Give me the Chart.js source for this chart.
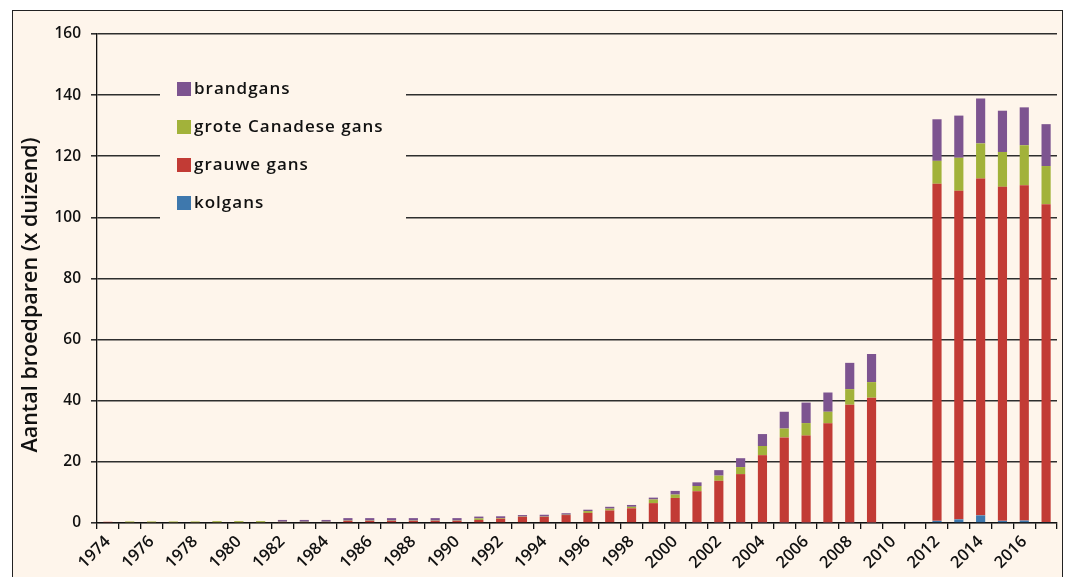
<!DOCTYPE html>
<html>
<head>
<meta charset="utf-8">
<script src="https://cdn.jsdelivr.net/npm/chart.js@4.4.0/dist/chart.umd.min.js"></script>
<style>
  body { margin: 0; background: #fff; }
  #frame {
    position: absolute; left: 12px; top: 10px;
    width: 1051px; height: 567px;
    box-sizing: border-box;
    border: 1px solid #222; border-bottom: none;
    background: #fef5eb;
  }
  canvas { display: block; }
</style>
</head>
<body>
<div id="frame"><canvas id="chart" width="1049" height="566"></canvas></div>
<script>
// Broedparen ganzen (x duizend)
const years = [];
for (let y = 1974; y <= 2017; y++) years.push(String(y));

const kolgans = [
  0, 0, 0, 0, 0, 0, 0, 0, 0, 0,
  0, 0, 0, 0, 0, 0, 0, 0, 0, 0,
  0, 0, 0, 0, 0, 0, 0.2, 0.2, 0.2, 0.2,
  0.2, 0.2, 0.2, 0.2, 0.2, 0.2, null, null, 0.7, 1.2,
  2.5, 0.7, 0.8, 0.3
];
const grauweGans = [
  0.4, 0.25, 0.25, 0.25, 0.25, 0.25, 0.25, 0.25, 0.3, 0.3,
  0.3, 0.7, 0.7, 0.7, 0.7, 0.7, 0.7, 1.0, 1.4, 2.0,
  2.0, 2.6, 3.3, 4.1, 4.8, 6.5, 8.0, 10.2, 13.6, 15.8,
  22.0, 27.8, 28.4, 32.4, 38.5, 40.8, null, null, 110.3, 107.5,
  110.2, 109.3, 109.7, 104.0
];
const groteCanadeseGans = [
  0, 0.25, 0.25, 0.25, 0.25, 0.35, 0.35, 0.35, 0.1, 0.1,
  0.1, 0.1, 0.1, 0.1, 0.1, 0.1, 0.1, 0.5, 0.2, 0.1,
  0.1, 0.1, 0.6, 0.6, 0.5, 1.2, 1.1, 1.7, 1.7, 2.3,
  3.0, 2.9, 4.1, 3.8, 5.1, 5.1, null, null, 7.5, 10.8,
  11.5, 11.4, 13.1, 12.5
];
const brandgans = [
  0, 0, 0, 0, 0, 0.05, 0.05, 0.05, 0.6, 0.6,
  0.6, 0.8, 0.8, 0.8, 0.8, 0.8, 0.8, 0.6, 0.6, 0.5,
  0.6, 0.5, 0.45, 0.6, 0.6, 0.6, 1.2, 1.2, 1.8, 2.9,
  3.9, 5.5, 6.7, 6.3, 8.6, 9.2, null, null, 13.6, 13.8,
  14.7, 13.5, 12.4, 13.7
];
const yTicks = [0, 20, 40, 60, 80, 100, 120, 140, 160];

const bg = '#fef5eb';
const gridColor = '#2e2e2e';
const fontFamily = '"Open Sans", "DejaVu Sans", sans-serif';

// Legend inside the plot, on a box that hides the grid lines behind it
const insideLegend = {
  id: 'insideLegend',
  beforeDatasetsDraw(chart) {
    const ctx = chart.ctx;
    ctx.save();
    ctx.fillStyle = bg;
    ctx.fillRect(147, 60, 246, 164);
    const items = chart.data.datasets.slice().reverse();
    ctx.font = '600 17px ' + fontFamily;
    ctx.letterSpacing = '1px';
    ctx.textBaseline = 'middle';
    items.forEach((ds, i) => {
      const cy = 78 + i * 38;
      ctx.fillStyle = ds.backgroundColor;
      ctx.fillRect(164, cy - 7, 14, 14);
      ctx.fillStyle = '#111';
      ctx.fillText(ds.label, 181, cy);
    });
    ctx.restore();
  }
};

// Y axis title, placed as in the original
const yTitle = {
  id: 'yTitle',
  afterDraw(chart) {
    const ctx = chart.ctx;
    ctx.save();
    ctx.translate(18, 284);
    ctx.rotate(-Math.PI / 2);
    ctx.font = '600 21.5px ' + fontFamily;
    ctx.fillStyle = '#111';
    ctx.textAlign = 'center';
    ctx.textBaseline = 'middle';
    ctx.fillText('Aantal broedparen (x duizend)', 0, 0);
    ctx.restore();
  }
};

function makeDataset(label, data, color) {
  return {
    label: label,
    data: data,
    backgroundColor: color,
    borderWidth: 0,
    barPercentage: 0.42,
    categoryPercentage: 1.0
  };
}

new Chart(document.getElementById('chart'), {
  type: 'bar',
  data: {
    labels: years,
    datasets: [
      makeDataset('kolgans', kolgans, '#3e78ad'),
      makeDataset('grauwe gans', grauweGans, '#c23b35'),
      makeDataset('grote Canadese gans', groteCanadeseGans, '#a2b23a'),
      makeDataset('brandgans', brandgans, '#7d5490')
    ]
  },
  options: {
    responsive: false,
    animation: false,
    layout: { padding: { left: 0, right: 5, top: 23, bottom: 0 } },
    plugins: {
      legend: { display: false },
      tooltip: { enabled: false }
    },
    scales: {
      x: {
        stacked: true,
        afterFit: scale => {
          scale.height = 54;
          scale.paddingRight = 0;
        },
        grid: {
          offset: true,
          drawOnChartArea: false,
          drawTicks: true,
          tickLength: 6,
          color: '#111',
          lineWidth: 1.3
        },
        border: { display: true, color: '#111', width: 1.3 },
        ticks: {
          autoSkip: false,
          maxRotation: 45,
          minRotation: 45,
          padding: 3,
          color: '#111',
          font: { family: fontFamily, size: 16.5, weight: '600' },
          callback: function(value, index) {
            return index % 2 === 0 ? years[index] : '';
          }
        }
      },
      y: {
        stacked: true,
        min: yTicks[0],
        max: yTicks[yTicks.length - 1],
        afterFit: scale => { scale.width = 84; },
        afterBuildTicks: scale => { scale.ticks = yTicks.map(v => ({ value: v })); },
        grid: {
          color: gridColor,
          lineWidth: 1.6,
          tickLength: 6
        },
        border: { display: true, color: '#111', width: 1.3 },
        ticks: {
          padding: 10,
          color: '#111',
          font: { family: fontFamily, size: 15.5, weight: '600' }
        }
      }
    }
  },
  plugins: [insideLegend, yTitle]
});
</script>
</body>
</html>
